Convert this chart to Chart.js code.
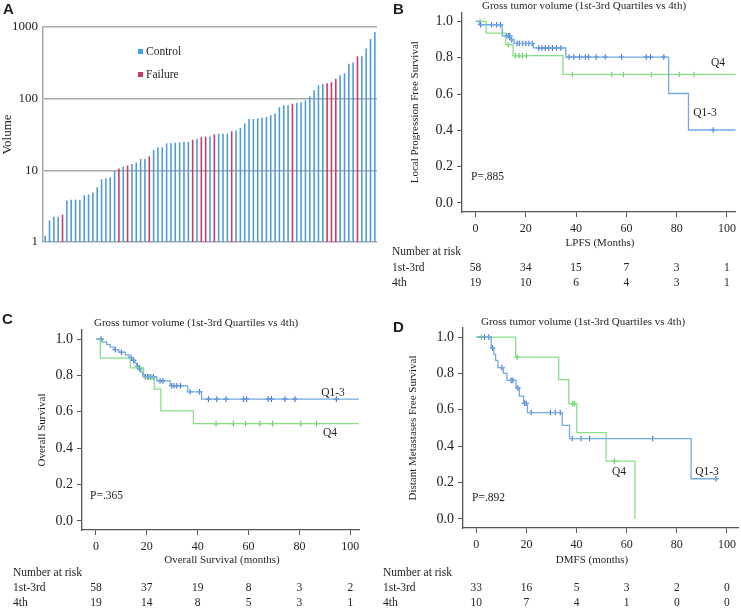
<!DOCTYPE html>
<html>
<head>
<meta charset="utf-8">
<script src="https://cdn.jsdelivr.net/npm/chart.js@4.4.1/dist/chart.umd.min.js"></script>
<style>
  body { margin: 0; background: #fff; }
  #wrap { position: relative; width: 741px; height: 610px; overflow: hidden; }
  canvas { position: absolute; }
</style>
</head>
<body>
<div id="wrap">
  <canvas id="panelA" width="380" height="300" style="left:0;top:0"></canvas>
  <canvas id="panelB" width="371" height="300" style="left:370px;top:0"></canvas>
  <canvas id="panelC" width="370" height="310" style="left:0;top:300px"></canvas>
  <canvas id="panelD" width="371" height="310" style="left:370px;top:300px"></canvas>
</div>
<script>
// ---- panel A: gross tumor volume per patient, sorted ----
const volumes = [1.22, 2.0, 2.25, 2.25, 2.4, 3.8, 3.9, 3.9, 3.9, 4.5, 4.6, 4.9, 5.8, 7.5, 7.7,
  8.0, 9.8, 10.6, 11.3, 11.7, 12.3, 12.9, 14.4, 14.4, 15.7, 19.2, 20.9, 20.9, 23.8, 23.8, 24.3,
  24.6, 25.0, 25.0, 26.7, 27.5, 29, 29.6, 29.6, 31.8, 32.5, 32.5, 32.5, 35, 36, 39, 45, 52, 52,
  53, 54.5, 55.5, 58.5, 62, 76, 81, 81, 85, 87, 89, 95, 108, 131, 154, 160, 164, 170, 189, 212,
  226, 306, 320, 390, 390, 500, 680, 850];
// C = control, F = failure
const outcome = 'CCCCFCCCCCCCCCCCCFCFCCCCFCCCCCCCCCFCFFCFCCCFCCCCCCCCCCCCCFCCCCCCCFFFCCCCFCCCC'.split('');
const patients = volumes.map((v, i) => i + 1);
const volumeTicks = [1, 10, 100, 1000];

// ---- Kaplan-Meier curves (months, survival) ----
const monthTicks = [0, 20, 40, 60, 80, 100];
const survTicks = [0, 0.2, 0.4, 0.6, 0.8, 1.0];

// B: local progression free survival
const lpfsQ13T = [0, 1.5, 10.6, 13.9, 15.3, 23.0, 35.9, 76.8, 84.7, 103.5];
const lpfsQ13S = [1, 0.982, 0.921, 0.90, 0.879, 0.854, 0.804, 0.603, 0.402, 0.402];
const lpfsQ13CensT = [2.0, 6.4, 8.4, 9.9, 12.3, 13.0, 13.6, 14.4, 16.5, 17.4, 18.8, 20.0, 21.2, 22.5,
  25.1, 26.4, 27.7, 29.1, 30.6, 32.2, 33.9, 37.2, 39.1, 41.4, 43.7, 45.0, 48.0, 51.6, 58.1, 67.9,
  69.6, 74.9, 94.5];
const lpfsQ13CensS = [0.982, 0.982, 0.982, 0.982, 0.921, 0.921, 0.921, 0.90, 0.879, 0.879, 0.879,
  0.879, 0.879, 0.879, 0.854, 0.854, 0.854, 0.854, 0.854, 0.854, 0.854, 0.804, 0.804, 0.804, 0.804,
  0.804, 0.804, 0.804, 0.804, 0.804, 0.804, 0.804, 0.402];
const lpfsQ4T = [0, 4.2, 12.0, 14.9, 34.8, 103.5];
const lpfsQ4S = [1, 0.936, 0.872, 0.812, 0.708, 0.708];
const lpfsQ4CensT = [1.8, 13.0, 15.8, 17.3, 18.6, 20.2, 38.5, 54.2, 58.8, 69.9, 81.0, 86.9];
const lpfsQ4CensS = [1, 0.872, 0.812, 0.812, 0.812, 0.812, 0.708, 0.708, 0.708, 0.708, 0.708, 0.708];
const lpfsRiskQ13 = [58, 34, 15, 7, 3, 1];
const lpfsRiskQ4 = [19, 10, 6, 4, 3, 1];

// C: overall survival
const osQ13T = [0, 2.4, 4.2, 5.6, 7.3, 9.0, 11.5, 13.0, 14.5, 15.3, 16.0, 16.8, 17.6, 18.3, 19.0,
  23.9, 29.2, 36.0, 41.5, 103.4];
const osQ13S = [1, 0.985, 0.97, 0.956, 0.942, 0.928, 0.913, 0.898, 0.883, 0.868, 0.852, 0.836, 0.82,
  0.804, 0.793, 0.77, 0.743, 0.71, 0.67, 0.67];
const osQ13CensT = [2.0, 7.6, 10.0, 13.8, 14.8, 16.3, 17.2, 19.4, 20.3, 21.3, 22.6, 25.2, 26.3, 29.8,
  30.7, 31.8, 33.2, 37.0, 40.7, 44.2, 47.5, 51.1, 58.0, 59.2, 67.7, 69.0, 74.3, 78.2, 94.5];
const osQ13CensS = [1, 0.942, 0.928, 0.898, 0.883, 0.852, 0.836, 0.793, 0.793, 0.793, 0.793, 0.77,
  0.77, 0.743, 0.743, 0.743, 0.743, 0.71, 0.71, 0.67, 0.67, 0.67, 0.67, 0.67, 0.67, 0.67, 0.67,
  0.67, 0.67];
const osQ4T = [0, 1.7, 13.5, 18.7, 22.9, 25.5, 38.3, 103.4];
const osQ4S = [1, 0.895, 0.842, 0.79, 0.725, 0.605, 0.535, 0.535];
const osQ4CensT = [17.0, 20.6, 22.0, 47.2, 54.0, 58.8, 64.4, 69.4, 80.5, 86.7];
const osQ4CensS = [0.842, 0.79, 0.79, 0.535, 0.535, 0.535, 0.535, 0.535, 0.535, 0.535];
const osRiskQ13 = [58, 37, 19, 8, 3, 2];
const osRiskQ4 = [19, 14, 8, 5, 3, 1];

// D: distant metastases free survival
const dmfsQ13T = [0, 6.0, 7.0, 7.7, 8.6, 10.8, 12.2, 15.9, 17.2, 18.9, 20.4, 34.3, 37.2, 85.7, 96.0];
const dmfsQ13S = [1, 0.94, 0.905, 0.872, 0.832, 0.80, 0.762, 0.72, 0.675, 0.636, 0.585, 0.514, 0.442,
  0.221, 0.221];
const dmfsQ13CensT = [3.3, 5.0, 6.5, 10.2, 13.9, 14.6, 16.6, 19.2, 19.9, 21.9, 29.6, 31.5, 33.5, 38.3,
  41.8, 45.2, 70.4, 95.6];
const dmfsQ13CensS = [1, 1, 0.94, 0.832, 0.762, 0.762, 0.72, 0.636, 0.636, 0.585, 0.585, 0.585, 0.585,
  0.442, 0.442, 0.442, 0.442, 0.221];
const dmfsQ4T = [0, 15.7, 32.9, 36.9, 40.1, 51.8, 63.3];
const dmfsQ4S = [1, 0.89, 0.766, 0.634, 0.475, 0.318, 0];
const dmfsQ4CensT = [2.0, 16.3, 38.5, 39.2, 55.1];
const dmfsQ4CensS = [1, 0.89, 0.634, 0.634, 0.318];
const dmfsRiskQ13 = [33, 16, 5, 3, 2, 0];
const dmfsRiskQ4 = [10, 7, 4, 1, 0, 0];

const panelTitle = 'Gross tumor volume (1st-3rd Quartiles vs 4th)';

// ---- styles ----
const serif = '"Liberation Serif", "Times New Roman", serif';
const sans = '"Liberation Sans", Arial, sans-serif';
const ink = '#1e1e1e';
const ctrlColor = '#4b9bd8';
const failColor = '#c8386a';
const blueLine = '#72aae2';
const blueMark = '#3b6fd4';
const greenLine = '#88e088';
const greenMark = '#5dcb5d';
const axisColor = '#555';

Chart.defaults.font.family = serif;
Chart.defaults.color = ink;

// ---- panel A ----
const panelAText = {
  id: 'panelAText',
  afterDraw(chart) {
    const ctx = chart.ctx, area = chart.chartArea;
    ctx.save();
    ctx.fillStyle = ink;
    ctx.textBaseline = 'middle';
    ctx.textAlign = 'left';
    ctx.font = 'bold 15px ' + sans;
    ctx.fillText('A', 3, 10);
    ctx.font = '11.5px ' + serif;
    ctx.fillStyle = '#3fa0e2';
    ctx.fillRect(138, 49, 5, 5);
    ctx.fillStyle = failColor;
    ctx.fillRect(138, 72, 5, 5);
    ctx.fillStyle = ink;
    ctx.fillText('Control', 146, 52);
    ctx.fillText('Failure', 146, 75);
    ctx.translate(8, (area.top + area.bottom) / 2);
    ctx.rotate(-Math.PI / 2);
    ctx.textAlign = 'center';
    ctx.font = '13px ' + serif;
    ctx.fillText('Volume', 0, 0);
    ctx.restore();
  }
};

new Chart(document.getElementById('panelA'), {
  type: 'bar',
  data: {
    labels: patients,
    datasets: [{
      data: volumes,
      backgroundColor: outcome.map(o => (o === 'F' ? failColor : ctrlColor)),
      barPercentage: 0.36,
      categoryPercentage: 1
    }]
  },
  options: {
    responsive: false,
    animation: false,
    devicePixelRatio: 1,
    layout: { padding: { top: 27, right: 3, bottom: 58, left: 0 }, autoPadding: false },
    plugins: { legend: { display: false }, tooltip: { enabled: false } },
    scales: {
      x: { display: false },
      y: {
        type: 'logarithmic',
        min: 1,
        max: 1000,
        afterFit: s => { s.width = 43; },
        afterBuildTicks: s => { s.ticks = volumeTicks.map(v => ({ value: v })); },
        ticks: { font: { family: serif, size: 13 }, color: ink, padding: 5, callback: v => String(v) },
        grid: { color: '#a9a9a9', lineWidth: 1.5, drawTicks: false },
        border: { color: '#a9a9a9', width: 1.5 }
      }
    }
  },
  plugins: [panelAText]
});

// ---- Kaplan-Meier panels ----
function toPoints(t, s) {
  return t.map((x, i) => ({ x: x, y: s[i] }));
}

function kmTextPlugin(p) {
  return {
    id: 'kmText',
    afterDraw(chart) {
      const ctx = chart.ctx, xs = chart.scales.x, area = chart.chartArea;
      ctx.save();
      ctx.fillStyle = ink;
      ctx.textBaseline = 'middle';
      ctx.textAlign = 'left';
      ctx.font = 'bold 15px ' + sans;
      ctx.fillText(p.letter, p.letterX, p.letterY);

      ctx.font = '11px ' + serif;
      ctx.textAlign = 'center';
      ctx.fillText(panelTitle, p.titleX, p.titleY);
      ctx.fillText(p.xTitle, p.xTitleX, p.xTitleY);

      ctx.font = '11.5px ' + serif;
      p.groupLabels.forEach(g => ctx.fillText(g.text, g.x, g.y));
      ctx.textAlign = 'left';
      ctx.fillText(p.pValue, p.pX, p.pY);

      // numbers at risk
      ctx.fillText('Number at risk', p.tableX, p.riskY[0]);
      ctx.fillText('1st-3rd', p.tableX, p.riskY[1]);
      ctx.fillText('4th', p.tableX, p.riskY[2]);
      ctx.textAlign = 'center';
      p.riskQ13.forEach((n, i) => ctx.fillText(String(n), xs.getPixelForValue(monthTicks[i]), p.riskY[1]));
      p.riskQ4.forEach((n, i) => ctx.fillText(String(n), xs.getPixelForValue(monthTicks[i]), p.riskY[2]));

      ctx.font = '11px ' + serif;
      ctx.translate(p.yTitleX, (area.top + area.bottom) / 2);
      ctx.rotate(-Math.PI / 2);
      ctx.fillText(p.yTitle, 0, 0);
      ctx.restore();
    }
  };
}

function kmChart(id, p) {
  const axisGrid = { drawOnChartArea: false, drawTicks: true, tickLength: 5, color: axisColor, lineWidth: 1 };
  const axisBorder = { display: true, color: axisColor, width: 1.3 };
  return new Chart(document.getElementById(id), {
    type: 'scatter',
    data: {
      datasets: [
        { type: 'line', data: toPoints(p.q13T, p.q13S), borderColor: blueLine, borderWidth: 1.3,
          stepped: true, pointRadius: 0, fill: false },
        { type: 'line', data: toPoints(p.q4T, p.q4S), borderColor: greenLine, borderWidth: 1.3,
          stepped: true, pointRadius: 0, fill: false },
        { type: 'scatter', data: toPoints(p.q13CensT, p.q13CensS), pointStyle: 'cross', pointRadius: 2.8,
          borderColor: blueMark, borderWidth: 1.1 },
        { type: 'scatter', data: toPoints(p.q4CensT, p.q4CensS), pointStyle: 'cross', pointRadius: 2.8,
          borderColor: greenMark, borderWidth: 1.1 }
      ]
    },
    options: {
      responsive: false,
      animation: false,
      devicePixelRatio: 1,
      layout: { padding: { top: p.padTop, right: p.padRight, bottom: 0, left: 0 }, autoPadding: false },
      plugins: { legend: { display: false }, tooltip: { enabled: false } },
      scales: {
        x: {
          type: 'linear',
          min: p.xMin,
          max: p.xMax,
          afterFit: s => { s.height = p.xAxisH; },
          afterBuildTicks: s => { s.ticks = monthTicks.map(v => ({ value: v })); },
          ticks: { font: { family: serif, size: 12 }, color: ink, padding: 5 },
          grid: axisGrid,
          border: axisBorder
        },
        y: {
          type: 'linear',
          min: -0.05,
          max: 1.05,
          afterFit: s => { s.width = p.yAxisW; },
          afterBuildTicks: s => { s.ticks = survTicks.map(v => ({ value: v })); },
          ticks: { font: { family: serif, size: 14 }, color: ink, padding: 4, callback: v => v.toFixed(1) },
          grid: axisGrid,
          border: axisBorder
        }
      }
    },
    plugins: [kmTextPlugin(p)]
  });
}

kmChart('panelB', {
  q13T: lpfsQ13T, q13S: lpfsQ13S, q13CensT: lpfsQ13CensT, q13CensS: lpfsQ13CensS,
  q4T: lpfsQ4T, q4S: lpfsQ4S, q4CensT: lpfsQ4CensT, q4CensS: lpfsQ4CensS,
  riskQ13: lpfsRiskQ13, riskQ4: lpfsRiskQ4,
  padTop: 10, padRight: 2, yAxisW: 92, xAxisH: 88, xMin: -5.4, xMax: 103.5,
  letter: 'B', letterX: 23, letterY: 10, titleX: 214, titleY: 6,
  yTitle: 'Local Progression Free Survival', yTitleX: 45,
  xTitle: 'LPFS (Months)', xTitleX: 230, xTitleY: 243,
  tableX: 22, riskY: [252, 268, 283],
  pValue: 'P=.885', pX: 101, pY: 177,
  groupLabels: [{ text: 'Q4', x: 348, y: 63 }, { text: 'Q1-3', x: 335, y: 113 }]
});

kmChart('panelC', {
  q13T: osQ13T, q13S: osQ13S, q13CensT: osQ13CensT, q13CensS: osQ13CensS,
  q4T: osQ4T, q4S: osQ4S, q4CensT: osQ4CensT, q4CensS: osQ4CensS,
  riskQ13: osRiskQ13, riskQ4: osRiskQ4,
  padTop: 30, padRight: 11, yAxisW: 82, xAxisH: 80, xMin: -5.5, xMax: 103.4,
  letter: 'C', letterX: 2, letterY: 20, titleX: 196, titleY: 23,
  yTitle: 'Overall Survival', yTitleX: 42,
  xTitle: 'Overall Survival (months)', xTitleX: 222, xTitleY: 260,
  tableX: 13, riskY: [273, 288, 303],
  pValue: 'P=.365', pX: 90, pY: 196,
  groupLabels: [{ text: 'Q1-3', x: 333, y: 93 }, { text: 'Q4', x: 330, y: 133 }]
});

kmChart('panelD', {
  q13T: dmfsQ13T, q13S: dmfsQ13S, q13CensT: dmfsQ13CensT, q13CensS: dmfsQ13CensS,
  q4T: dmfsQ4T, q4S: dmfsQ4S, q4CensT: dmfsQ4CensT, q4CensS: dmfsQ4CensS,
  riskQ13: dmfsRiskQ13, riskQ4: dmfsRiskQ4,
  padTop: 28, padRight: 2, yAxisW: 93, xAxisH: 82, xMin: -5.3, xMax: 104.5,
  letter: 'D', letterX: 23, letterY: 28, titleX: 213, titleY: 22,
  yTitle: 'Distant Metastases Free Survival', yTitleX: 43,
  xTitle: 'DMFS (months)', xTitleX: 222, xTitleY: 260,
  tableX: 13, riskY: [273, 288, 303],
  pValue: 'P=.892', pX: 102, pY: 198,
  groupLabels: [{ text: 'Q4', x: 249, y: 172 }, { text: 'Q1-3', x: 337, y: 172 }]
});
</script>
</body>
</html>
